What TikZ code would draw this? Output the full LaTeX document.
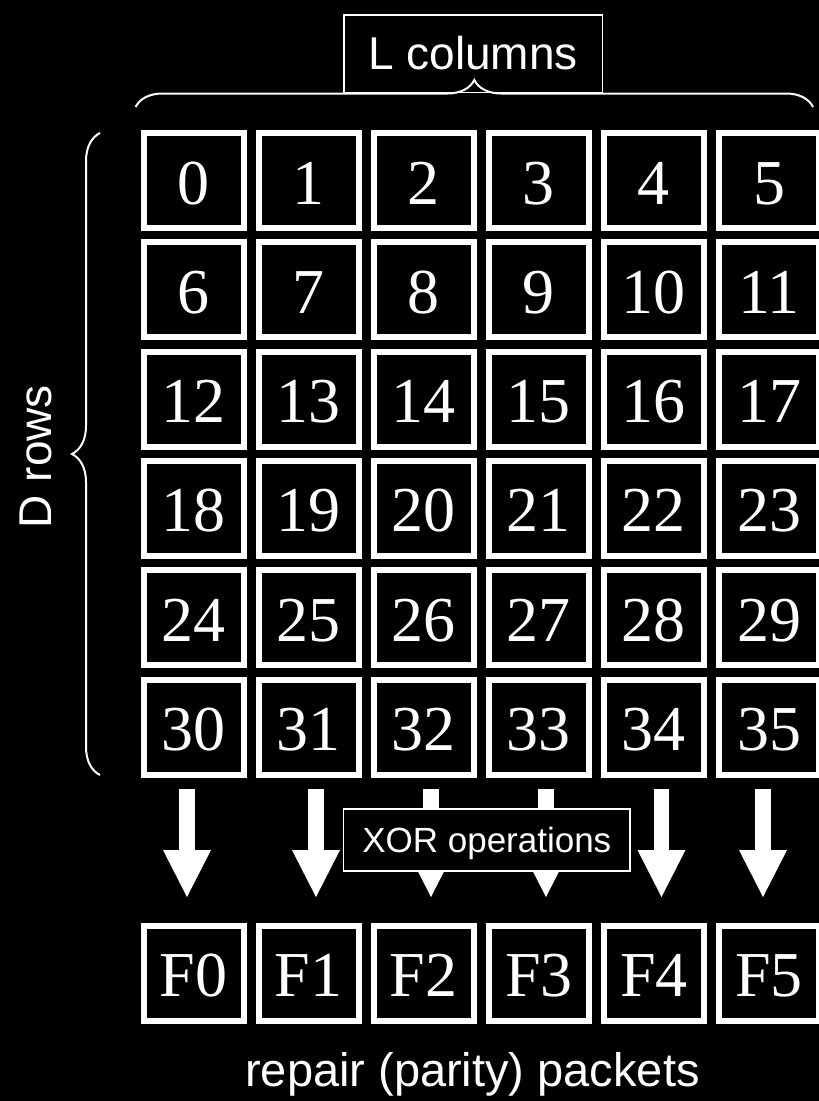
\documentclass[tikz,border=0pt]{standalone}
\usepackage{fontspec}
\setmainfont{Liberation Serif}
\newfontfamily\labelfont{Liberation Sans}
\usetikzlibrary{arrows.meta,decorations.pathreplacing}
\definecolor{SlideBlack}{RGB}{0,0,0}
\definecolor{ChalkWhite}{RGB}{255,255,255}
\tikzset{
  cell/.style={draw=ChalkWhite,line width=6pt,fill=SlideBlack,text=ChalkWhite,
    minimum width=100pt,minimum height=95pt,inner sep=0pt,
    font=\fontsize{64}{70}\selectfont,text height=47pt,text depth=0pt},
  parity/.style={cell},
  tagtext/.style={text=ChalkWhite,inner sep=0pt,font=\labelfont\fontsize{46}{55}\selectfont},
  tagbox/.style={tagtext,draw=ChalkWhite,line width=1.5pt,fill=SlideBlack},
  xorflow/.style={draw=ChalkWhite,line width=15.5pt,
    -{Triangle[length=47pt,width=48pt,line width=0pt]}},
  bracebar/.style={draw=ChalkWhite,line width=2pt,decorate,
    decoration={brace,amplitude=#1}}
}

\begin{document}
\begin{tikzpicture}[x=1pt,y=-1pt]
  \useasboundingbox (0,0) rectangle (819,1101);
  \fill[SlideBlack] (0,0) rectangle (819,1101);
  \foreach \r in {0,...,5}
    \foreach \c in {0,...,5}{
      \pgfmathtruncatemacro{\n}{6*\r+\c}
      \node[cell] (c\n) at ({193.5+115.1*\c},{180.5+109.3*\r}) {\n};
    }
  \foreach \c in {0,...,5}
    \node[parity] (f\c) at ({193.5+115.1*\c},973) {F\c};
  \foreach \c/\x in {0/187,1/316,2/431,3/546,4/661.5,5/763}{
    \coordinate (from\c) at (\x,789);
    \coordinate (to\c) at (\x,897);
    \draw[xorflow] (from\c) -- (to\c);
  }
  \node[tagbox,minimum width=286.5pt,minimum height=62pt,text depth=0pt,
    font=\labelfont\fontsize{35}{42}\selectfont] (xor) at (486.8,840) {XOR operations};
  \node[tagbox,fill=none,minimum width=258.5pt,minimum height=77.5pt] (lcols) at (473,53.5) {L columns};
  \coordinate (colsA) at (135.6,107);
  \coordinate (colsB) at (813,107);
  \coordinate (rowsA) at (100,775);
  \coordinate (rowsB) at (100,133);
  \draw[bracebar=27pt] (colsA) -- (colsB);
  \draw[bracebar=28pt] (rowsA) -- (rowsB);
  \node[tagtext,rotate=90,anchor=base] (drows) at (51.7,456.7) {D rows};
  \node[tagtext,anchor=base,font=\labelfont\fontsize{47}{56}\selectfont] (repair) at (472.5,1086.7) {repair (parity) packets};
\end{tikzpicture}
\end{document}
